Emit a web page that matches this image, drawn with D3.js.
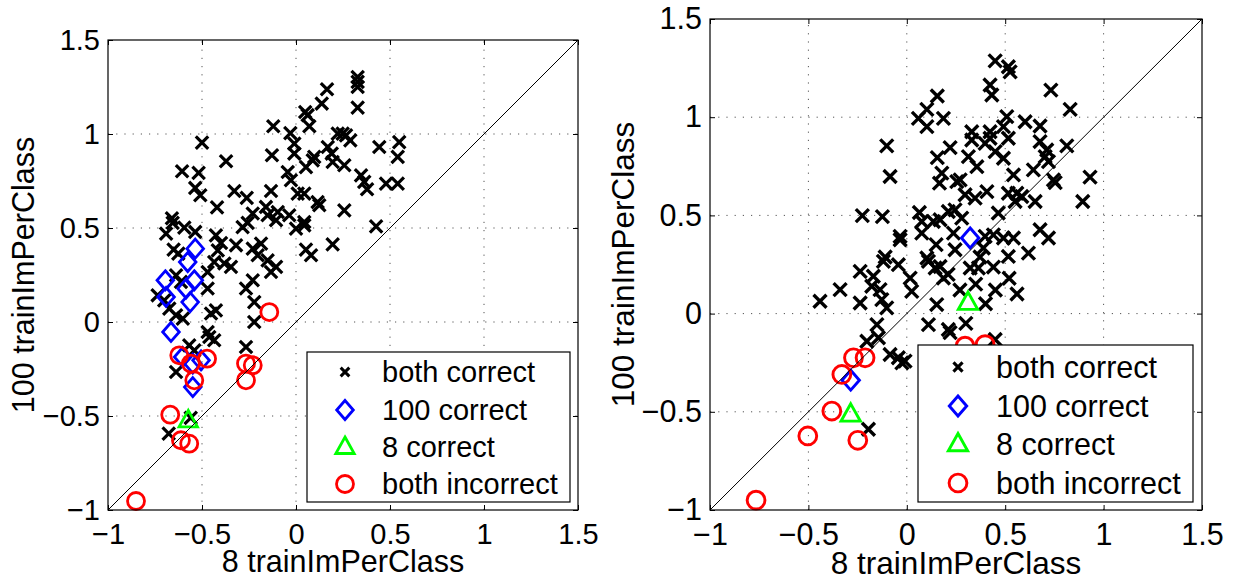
<!DOCTYPE html>
<html><head><meta charset="utf-8">
<script src="https://cdn.jsdelivr.net/npm/d3@7"></script>
<style>body{margin:0;background:#fff}svg{display:block}text{font-family:"Liberation Sans",Arial,Helvetica,sans-serif;fill:#000}</style>
</head><body><svg id="c" width="1233" height="581"></svg>
<script>
const legendLabels = ["both correct", "100 correct", "8 correct", "both incorrect"];
const tickValues = [-1, -0.5, 0, 0.5, 1, 1.5];
const tickLabels = ["\u22121", "\u22120.5", "0", "0.5", "1", "1.5"];
const xLabel = "8 trainImPerClass";
const yLabel = "100 trainImPerClass";

// Left panel: [8 trainImPerClass, 100 trainImPerClass]
const leftBothCorrect = [
[-0.500,0.954],[-0.121,1.041],[-0.030,1.005],[0.049,1.117],[0.071,1.041],[0.137,1.162],[-0.128,0.887],
[-0.009,0.949],[-0.009,0.896],[-0.372,0.855],[-0.606,0.802],[-0.518,0.793],[-0.536,0.713],[-0.509,0.674],
[-0.328,0.697],[-0.262,0.660],[-0.420,0.610],[-0.133,0.697],[-0.044,0.798],[-0.027,0.754],[0.053,0.824],
[0.097,0.878],[0.009,0.683],[0.044,0.683],[0.115,0.638],[-0.230,0.577],[-0.160,0.612],[-0.097,0.585],
[-0.036,0.568],[-0.660,0.552],[0.328,1.303],[0.328,1.277],[0.328,1.250],[0.328,1.140],[0.165,1.238],
[0.062,1.100],[0.222,1.002],[0.248,1.002],[0.266,0.993],[0.289,0.966],[0.169,0.931],[0.190,0.896],
[0.195,0.851],[0.089,0.860],[0.257,0.834],[0.443,0.931],[0.549,0.957],[0.541,0.878],[0.346,0.780],
[0.363,0.745],[0.378,0.706],[0.479,0.736],[0.541,0.736],[0.124,0.621],[0.257,0.594],[0.044,0.532],
[0.426,0.509],[0.195,0.413],[0.053,0.385],[0.080,0.355],[-0.656,0.527],[-0.594,0.502],[-0.536,0.479],
[-0.691,0.470],[-0.651,0.385],[-0.626,0.364],[-0.426,0.461],[-0.399,0.420],[-0.319,0.408],[-0.416,0.381],
[-0.284,0.505],[-0.257,0.527],[-0.151,0.568],[-0.106,0.541],[0.000,0.497],[0.044,0.514],[-0.186,0.417],
[-0.230,0.390],[-0.204,0.355],[-0.151,0.328],[-0.106,0.293],[-0.133,0.266],[-0.346,0.293],[-0.381,0.311],
[-0.435,0.319],[-0.470,0.266],[-0.230,0.222],[-0.266,0.178],[-0.222,0.106],[-0.638,0.248],[-0.612,0.213],
[-0.470,0.178],[-0.736,0.142],[-0.701,0.115],[-0.674,0.071],[-0.638,0.036],[-0.602,0.018],[-0.452,0.045],
[-0.426,0.062],[-0.222,0.000],[-0.470,-0.053],[-0.461,-0.080],[-0.435,-0.097],[-0.568,-0.124],[-0.541,-0.151],
[-0.266,-0.133],[-0.638,-0.266],[-0.677,-0.594],[-0.560,-0.510]
];
const leftOnly100Correct = [
[-0.536,0.390],[-0.576,0.319],[-0.695,0.222],[-0.691,0.133],[-0.541,0.222],[-0.585,0.178],[-0.563,0.106],
[-0.665,-0.053],[-0.603,-0.186],[-0.549,-0.221],[-0.505,-0.204],[-0.549,-0.346]
];
const leftOnly8Correct = [[-0.573,-0.523]];
const leftBothIncorrect = [
[-0.142,0.053],[-0.621,-0.177],[-0.559,-0.221],[-0.473,-0.195],[-0.541,-0.310],[-0.266,-0.221],[-0.230,-0.230],
[-0.266,-0.310],[-0.669,-0.493],[-0.612,-0.629],[-0.568,-0.647],[-0.851,-0.952]
];

// Right panel
const rightBothCorrect = [
[0.155,1.108],[0.102,1.040],[0.059,0.994],[0.102,0.952],[0.186,0.994],[-0.102,0.854],[-0.085,0.698],
[0.220,0.845],[0.155,0.794],[0.178,0.715],[0.166,0.664],[0.254,0.672],[-0.226,0.499],[-0.124,0.494],
[-0.034,0.393],[-0.034,0.376],[0.064,0.515],[0.076,0.469],[0.076,0.410],[0.135,0.469],[0.169,0.478],
[0.211,0.520],[0.245,0.528],[0.237,0.410],[0.149,0.351],[-0.110,0.288],[0.102,0.283],[0.245,0.325],
[0.449,1.287],[0.516,1.257],[0.525,1.231],[0.423,1.164],[0.432,1.113],[0.732,1.138],[0.830,1.040],
[0.508,1.003],[0.491,0.952],[0.601,0.977],[0.677,0.955],[0.330,0.926],[0.330,0.884],[0.423,0.926],
[0.423,0.893],[0.398,0.867],[0.516,0.893],[0.677,0.876],[0.711,0.833],[0.813,0.854],[0.313,0.799],
[0.356,0.748],[0.449,0.825],[0.491,0.791],[0.720,0.774],[0.703,0.799],[0.643,0.732],[0.542,0.706],
[0.754,0.667],[0.745,0.681],[0.931,0.695],[0.894,0.571],[0.271,0.681],[0.296,0.605],[0.347,0.588],
[0.407,0.621],[0.516,0.613],[0.559,0.613],[0.584,0.596],[0.550,0.571],[0.652,0.571],[0.279,0.486],
[0.465,0.512],[0.677,0.427],[0.720,0.385],[0.398,0.393],[0.440,0.401],[0.491,0.385],[0.542,0.385],
[0.389,0.334],[0.372,0.288],[0.516,0.291],[0.618,0.308],[0.322,0.232],[0.364,0.232],[0.440,0.237],
[0.169,0.240],[-0.237,0.215],[-0.119,0.266],[-0.043,0.249],[-0.170,0.190],[-0.178,0.139],[-0.136,0.122],
[-0.339,0.122],[-0.441,0.063],[-0.237,0.054],[-0.127,0.071],[-0.102,0.029],[0.017,0.181],[0.025,0.113],
[0.110,0.266],[0.144,0.232],[0.186,0.181],[0.152,0.046],[0.110,-0.056],[0.211,-0.081],[-0.152,-0.056],
[-0.144,-0.123],[-0.203,-0.141],[-0.085,-0.208],[-0.043,-0.225],[-0.009,-0.242],[-0.025,-0.251],
[-0.195,-0.589],[0.220,-0.097],[0.449,-0.132],[0.210,0.200],[0.270,0.120],[0.350,0.150],[0.450,0.120],
[0.520,0.180],[0.560,0.100],[0.300,-0.050],[0.400,0.050]
];
const rightOnly100Correct = [[0.322,0.385],[-0.285,-0.339]];
const rightOnly8Correct = [[0.311,0.056],[-0.285,-0.513]];
const rightBothIncorrect = [
[-0.271,-0.225],[-0.212,-0.225],[-0.330,-0.310],[-0.381,-0.496],[-0.503,-0.623],[-0.249,-0.645],
[-0.766,-0.950],[0.296,-0.166],[0.398,-0.158]
];

const panels = [
  {sets:[leftBothCorrect,leftOnly100Correct,leftOnly8Correct,leftBothIncorrect],
   x0:108,x1:578,yb:510,yt:40,font:29,labFont:30.5,k:1,
   lg:{x:307,y:352,w:263,h:150,mx:345,tx:382,rows:[372,410,447,484]},
   xlabY:572,ylabX:34},
  {sets:[rightBothCorrect,rightOnly100Correct,rightOnly8Correct,rightBothIncorrect],
   x0:710,x1:1202,yb:510,yt:19,font:30.5,labFont:31.5,k:1.047,
   lg:{x:918,y:345,w:275,h:157,mx:958,tx:996,rows:[367,406,444,483]},
   xlabY:574,ylabX:634}
];

const styles = [
  {color:"#000", shape:"times"},
  {color:"#0000ff", shape:"diamond"},
  {color:"#00ff00", shape:"triangle"},
  {color:"#ff0000", shape:"circle"}
];

function markerPath(shape, k){
  if(shape==="times"){const a=6.2*k;return `M${-a},${-a}L${a},${a}M${-a},${a}L${a},${-a}`;}
  if(shape==="diamond"){const w=8.3*k,h=9.5*k;return `M0,${-h}L${w},0L0,${h}L${-w},0Z`;}
  if(shape==="triangle"){const w=9.2*k,t=10*k,b=6.5*k;return `M0,${-t}L${w},${b}L${-w},${b}Z`;}
  const r=8.5*k; return `M${r},0A${r},${r} 0 1,1 ${-r},0A${r},${r} 0 1,1 ${r},0Z`;
}

const svg = d3.select("#c");

panels.forEach(p=>{
  const x = d3.scaleLinear().domain([-1,1.5]).range([p.x0,p.x1]);
  const y = d3.scaleLinear().domain([-1,1.5]).range([p.yb,p.yt]);
  const g = svg.append("g");
  const fmt = d => tickLabels[tickValues.indexOf(d)];

  // grid
  const inner = tickValues.slice(1,-1);
  g.append("g").selectAll("line.gx").data(inner).join("line")
    .attr("x1",d=>x(d)).attr("x2",d=>x(d)).attr("y1",p.yb).attr("y2",p.yt)
    .attr("stroke","#555").attr("stroke-width",1).attr("stroke-dasharray","1.2,7");
  g.append("g").selectAll("line.gy").data(inner).join("line")
    .attr("y1",d=>y(d)).attr("y2",d=>y(d)).attr("x1",p.x0).attr("x2",p.x1)
    .attr("stroke","#555").attr("stroke-width",1).attr("stroke-dasharray","1.2,7");

  // axes
  g.append("g").attr("transform",`translate(0,${p.yb})`)
    .call(d3.axisBottom(x).tickValues(tickValues).tickFormat(fmt).tickSizeInner(-5).tickSizeOuter(0).tickPadding(13));
  g.append("g").attr("transform",`translate(${p.x0},0)`)
    .call(d3.axisLeft(y).tickValues(tickValues).tickFormat(fmt).tickSizeInner(-5).tickSizeOuter(0).tickPadding(8));
  g.append("g").attr("transform",`translate(0,${p.yt})`)
    .call(d3.axisTop(x).tickValues(tickValues).tickFormat("").tickSizeInner(-5).tickSizeOuter(0));
  g.append("g").attr("transform",`translate(${p.x1},0)`)
    .call(d3.axisRight(y).tickValues(tickValues).tickFormat("").tickSizeInner(-5).tickSizeOuter(0));
  g.selectAll(".domain").remove();
  g.selectAll(".tick line").attr("stroke","#000");
  g.selectAll(".tick text").attr("font-size",p.font).attr("font-family","Liberation Sans, Arial, sans-serif").attr("fill","#000");

  // markers
  p.sets.forEach((set,i)=>{
    const st = styles[i];
    g.append("g").selectAll("path").data(set).join("path")
      .attr("transform",d=>`translate(${x(d[0])},${y(d[1])})`)
      .attr("d",markerPath(st.shape,p.k))
      .attr("fill","none").attr("stroke",st.color).attr("stroke-width",(i===0?3.2:2.8)*p.k)
      .attr("stroke-linejoin","miter");
  });

  // diagonal
  g.append("line").attr("x1",x(-1)).attr("y1",y(-1)).attr("x2",x(1.5)).attr("y2",y(1.5))
    .attr("stroke","#000").attr("stroke-width",1);

  // box
  g.append("rect").attr("x",p.x0).attr("y",p.yt).attr("width",p.x1-p.x0).attr("height",p.yb-p.yt)
    .attr("fill","none").attr("stroke","#000").attr("stroke-width",1.2);

  // labels
  g.append("text").attr("x",(p.x0+p.x1)/2).attr("y",p.xlabY).attr("text-anchor","middle")
    .attr("font-size",p.labFont).text(xLabel);
  g.append("text").attr("transform",`translate(${p.ylabX},${(p.yt+p.yb)/2}) rotate(-90)`)
    .attr("text-anchor","middle").attr("font-size",p.labFont).text(yLabel);

  // legend
  const L = p.lg;
  const lg = g.append("g");
  lg.append("rect").attr("x",L.x).attr("y",L.y).attr("width",L.w).attr("height",L.h)
    .attr("fill","#fff").attr("stroke","#000").attr("stroke-width",1.2);
  legendLabels.forEach((lab,i)=>{
    const st = styles[i];
    lg.append("path").attr("transform",`translate(${L.mx},${L.rows[i]})`)
      .attr("d",markerPath(st.shape,p.k*(i===0?0.7:1)))
      .attr("fill","none").attr("stroke",st.color).attr("stroke-width",(i===0?3:2.8)*p.k);
    lg.append("text").attr("x",L.tx).attr("y",L.rows[i]+p.font*0.36).attr("font-size",p.font).text(lab);
  });
});
</script></body></html>
